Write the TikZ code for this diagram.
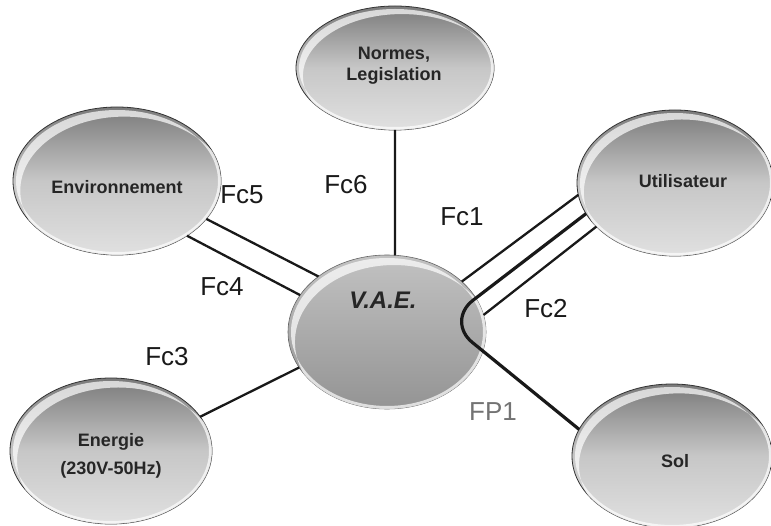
\documentclass[tikz,border=0pt]{standalone}
\usepackage{fontspec}
\setmainfont{Liberation Sans}
\usetikzlibrary{shapes.geometric,calc}

% white sheen along the upper-left rim of a bubble
\newcommand\sheen[4]{%
  \begin{scope}
    \clip (#1,#2) ellipse [x radius=#3, y radius=#4];
    \fill[white, opacity=0.7, even odd rule]
      (#1,#2) ellipse [x radius=#3-3, y radius=#4-3]
      (#1+0.07*#3,#2+0.13*#4) ellipse [x radius=#3, y radius=#4];
  \end{scope}}

\tikzset{
  orb/.style={ellipse, draw=black!80, line width=0.8pt, inner sep=0pt, outer sep=0pt,
    top color=black!52, bottom color=black!12, middle color=black!22},
  hub/.style={ellipse, draw=black!60, line width=0.6pt, inner sep=0pt, outer sep=0pt,
    top color=black!24, bottom color=black!42},
  orbtext/.style={font=\fontsize{18}{21}\selectfont\bfseries, text=black!85, align=center, inner sep=0pt},
  fclabel/.style={font=\fontsize{26}{30}\selectfont, text=black!90, inner sep=0pt},
  link/.style={draw=black!90, line width=2.3pt},
  flow/.style={draw=black!90, line width=3.2pt, rounded corners=34pt}
}

\begin{document}
\begin{tikzpicture}[x=1pt, y=-1pt]
\useasboundingbox (0,0) rectangle (771,526);

% outer bubbles
\node[orb, minimum width=198pt, minimum height=124pt] (norm) at (395,68) {};
\sheen{395}{68}{99}{62}
\node[orb, minimum width=208pt, minimum height=148pt] (env) at (117,181) {};
\sheen{117}{181}{104}{74}
\node[orb, minimum width=196pt, minimum height=146pt] (user) at (675,183) {};
\sheen{675}{183}{98}{73}
\node[orb, minimum width=202pt, minimum height=146pt] (ener) at (111,451) {};
\sheen{111}{451}{101}{73}
\node[orb, minimum width=200pt, minimum height=144pt] (sol) at (672,456) {};
\sheen{672}{456}{100}{72}

% central bubble
\node[hub, minimum width=198pt, minimum height=154pt] (vae) at (387,332) {};
\sheen{387}{332}{99}{77}

% bubble captions
\node[orbtext] (tnorm) at (394,66) {Normes,\\Legislation};
\node[orbtext] (tenv) at (117,187) {Environnement};
\node[orbtext] (tuser) at (683,181) {Utilisateur};
\node[orbtext, font=\fontsize{18}{28}\selectfont\bfseries] (tener) at (111,456) {Energie\\(230V-50Hz)};
\node[orbtext] (tsol) at (675,461) {Sol};
\node[orbtext, font=\fontsize{24}{28}\selectfont\bfseries\itshape, text=black!85] (tvae) at (383,300) {V.A.E.};

% constraint links
\draw[link] (norm.-90) -- (vae.84);
\draw[link] (env.-23.4) -- (vae.141.8);
\draw[link] (env.-38.7) -- (vae.157);
\draw[link] (ener.21) -- (vae.202);
\draw[link] (vae.34.4) -- (user.187.8);
\draw[link] (vae.10.1) -- (user.209);

% main function: from the user, around the bike, to the ground
\draw[flow] (user.199) -- (446,321) -- (sol.164.7);

% link labels
\node[fclabel] (l6) at (346,185) {Fc6};
\node[fclabel] (l5) at (242,195) {Fc5};
\node[fclabel] (l4) at (222,287) {Fc4};
\node[fclabel] (l1) at (462,217) {Fc1};
\node[fclabel] (l2) at (546,309) {Fc2};
\node[fclabel] (l3) at (167,357) {Fc3};
\node[fclabel, text=black!55] (lp1) at (493,412) {FP1};
\end{tikzpicture}
\end{document}
